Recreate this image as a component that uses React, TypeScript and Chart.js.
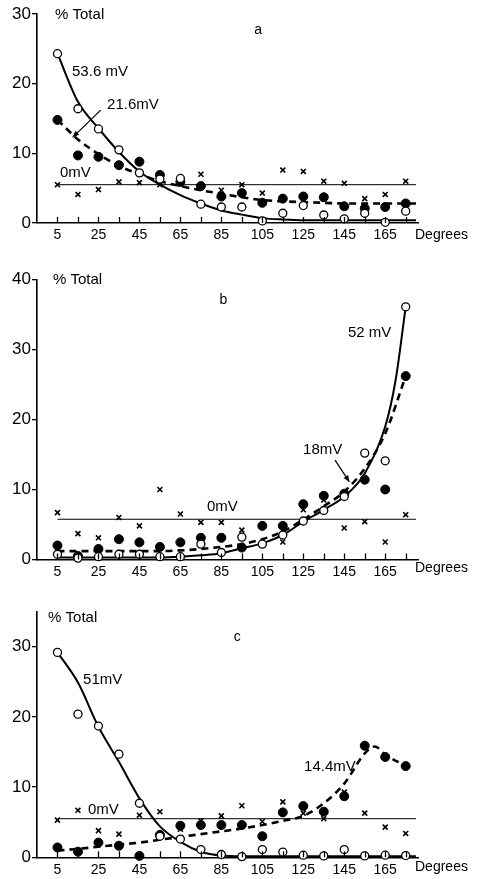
import React, { useEffect, useRef } from "react";
import { Chart, registerables } from "chart.js";

Chart.register(...registerables);

// ---------- shared axis data ----------
const degrees = [5, 15, 25, 35, 45, 55, 65, 75, 85, 95, 105, 115, 125, 135, 145, 155, 165, 175];
const xLabelValues = [5, 25, 45, 65, 85, 105, 125, 145, 165];
const zeroLineDeg = [5, 180];

// ---------- panel a ----------
const aOpen53 = [24.3, 16.4, 13.5, 10.5, 7.2, 6.3, 6.4, 2.7, 2.3, 2.3, 0.3, 1.4, 2.5, 1.15, 0.6, 1.4, 0.1, 1.7];
const aFilled21 = [14.8, 9.7, 9.5, 8.3, 8.8, 6.9, 5.9, 5.3, 3.8, 4.3, 2.9, 3.5, 3.8, 3.7, 2.4, 2.1, 2.3, 2.8];
const aCross0 = [5.5, 4.1, 4.8, 5.9, 5.8, 5.5, 5.6, 7.0, 4.7, 5.5, 4.3, 7.6, 7.4, 6.0, 5.7, 3.5, 4.1, 6.0];
const aCurveDeg = [5, 15, 25, 35, 45, 55, 65, 75, 85, 95, 105, 115, 125, 135, 145, 155, 165, 175, 180];
const aCurve53 = [24.3, 17.4, 13.6, 10.2, 7.4, 5.5, 4.0, 2.8, 1.8, 1.2, 0.7, 0.5, 0.4, 0.4, 0.4, 0.4, 0.4, 0.4, 0.4];
const aCurve21 = [14.8, 12.0, 9.9, 8.2, 7.0, 6.0, 5.3, 4.7, 4.2, 3.7, 3.3, 3.1, 3.0, 2.9, 2.8, 2.8, 2.8, 2.8, 2.8];
const aZero = [5.5, 5.5];
const aYTicks = [0, 10, 20, 30];

// ---------- panel b ----------
const bOpen52 = [0.75, 0.2, 0.4, 0.75, 0.75, 0.4, 0.4, 2.2, 1.0, 3.2, 2.2, 3.5, 5.5, 7.0, 9.0, 15.2, 14.1, 36.1];
const bFilled18 = [2.0, 0.5, 1.5, 2.9, 2.45, 1.8, 2.45, 3.1, 3.1, 1.7, 4.8, 4.8, 7.9, 9.1, 9.4, 11.4, 10.0, 26.2];
const bCross0 = [6.7, 3.7, 3.1, 6.0, 4.8, 10.0, 6.5, 5.3, 5.3, 4.2, 5.0, 2.5, 7.1, 8.5, 4.5, 5.4, 2.5, 6.4];
const bCurve52Deg = [5, 15, 25, 35, 45, 55, 65, 75, 85, 95, 105, 115, 125, 135, 145, 155, 165, 170, 175];
const bCurve52 = [0.3, 0.3, 0.3, 0.3, 0.3, 0.3, 0.4, 0.6, 0.9, 1.6, 2.3, 3.5, 5.4, 7.1, 9.0, 12.3, 19.0, 25.5, 36.1];
const bCurve18Deg = [5, 15, 25, 35, 45, 55, 65, 75, 85, 95, 105, 115, 125, 135, 145, 155, 165, 175];
const bCurve18 = [1.2, 1.2, 1.2, 1.2, 1.2, 1.2, 1.3, 1.5, 1.8, 2.2, 2.9, 4.0, 5.7, 7.6, 9.7, 13.0, 18.0, 26.2];
const bZero = [5.75, 5.75];
const bYTicks = [0, 10, 20, 30, 40];

// ---------- panel c ----------
const cOpen51 = [29.2, 20.4, 18.7, 14.7, 7.7, 3.0, 2.6, 1.1, 0.4, 0.1, 1.1, 0.75, 0.3, 0.2, 1.1, 0.2, 0.3, 0.25];
const cFilled14 = [1.4, 0.8, 2.1, 1.65, 0.2, 3.2, 4.5, 4.6, 4.6, 4.6, 3.0, 6.4, 7.3, 6.5, 8.7, 15.9, 14.3, 13.0];
const cCross0 = [5.3, 6.7, 3.8, 3.3, 6.0, 6.5, 4.0, 5.2, 5.9, 7.35, 5.1, 7.9, 6.3, 5.5, 9.3, 6.3, 4.3, 3.4];
const cCurve51Deg = [5, 15, 25, 35, 45, 55, 65, 75, 85, 95, 105, 115, 125, 135, 145, 155, 165, 175, 180];
const cCurve51 = [29.2, 24.9, 18.6, 13.6, 8.4, 4.4, 2.2, 0.8, 0.25, 0.15, 0.15, 0.15, 0.15, 0.15, 0.15, 0.15, 0.15, 0.15, 0.15];
const cCurve14Deg = [5, 15, 25, 35, 45, 55, 65, 75, 85, 95, 105, 115, 125, 135, 145, 155, 160, 165, 177];
const cCurve14 = [0.95, 1.2, 1.5, 1.8, 2.1, 2.5, 2.9, 3.3, 3.7, 4.1, 4.6, 5.2, 5.9, 7.7, 10.5, 14.8, 15.8, 14.6, 12.8];
const cZero = [5.5, 5.5];
const cYTicks = [0, 10, 20, 30];

type Txt = { text: string; x: number; y: number; size: number; align?: CanvasTextAlign };
type Arrow = { from: [number, number]; to: [number, number] };

const pts = (xs: number[], ys: number[]) => xs.map((x, i) => ({ x, y: ys[i] }));

const FONT = "'Liberation Sans', Arial, Helvetica, sans-serif";

const annotPlugin = {
  id: "annot",
  afterDatasetsDraw(chart: any, _args: any, opts: any) {
    const { ctx, chartArea } = chart;
    const xs = chart.scales.x;
    const ys = chart.scales.y;
    ctx.save();
    // inward ticks on x axis
    ctx.strokeStyle = "#000";
    ctx.lineWidth = 1.3;
    for (const v of degrees) {
      const px = Math.round(xs.getPixelForValue(v)) + 0.5;
      ctx.beginPath();
      ctx.moveTo(px, chartArea.bottom);
      ctx.lineTo(px, chartArea.bottom - 6);
      ctx.stroke();
    }
    // texts
    ctx.fillStyle = "#000";
    ctx.textBaseline = "middle";
    for (const t of (opts.texts || []) as Txt[]) {
      ctx.font = `${t.size}px ${FONT}`;
      ctx.textAlign = t.align || "left";
      ctx.fillText(t.text, xs.getPixelForValue(t.x), ys.getPixelForValue(t.y));
    }
    // "Degrees"
    ctx.font = `14px ${FONT}`;
    ctx.textAlign = "left";
    ctx.textBaseline = "middle";
    ctx.fillText("Degrees", chartArea.right - 3, chartArea.bottom + opts.degreesOffset);
    // arrows
    for (const a of (opts.arrows || []) as Arrow[]) {
      const x1 = xs.getPixelForValue(a.from[0]);
      const y1 = ys.getPixelForValue(a.from[1]);
      const x2 = xs.getPixelForValue(a.to[0]);
      const y2 = ys.getPixelForValue(a.to[1]);
      ctx.lineWidth = 1.2;
      ctx.beginPath();
      ctx.moveTo(x1, y1);
      ctx.lineTo(x2, y2);
      ctx.stroke();
      const ang = Math.atan2(y2 - y1, x2 - x1);
      const L = 7;
      ctx.beginPath();
      ctx.moveTo(x2, y2);
      ctx.lineTo(x2 - L * Math.cos(ang - 0.4), y2 - L * Math.sin(ang - 0.4));
      ctx.lineTo(x2 - L * Math.cos(ang + 0.4), y2 - L * Math.sin(ang + 0.4));
      ctx.closePath();
      ctx.fill();
    }
    ctx.restore();
  },
};

type Panel = {
  top: number;
  height: number;
  padTop: number;
  xAxisHeight: number;
  yMax: number;
  yTicks: number[];
  open: number[];
  filled: number[];
  cross: number[];
  solidX: number[];
  solid: number[];
  dashX: number[];
  dash: number[];
  zero: number[];
  texts: Txt[];
  arrows: Arrow[];
  degreesOffset: number;
};

const panels: Panel[] = [
  {
    top: 0,
    height: 250,
    padTop: 14,
    xAxisHeight: 27,
    yMax: 30,
    yTicks: aYTicks,
    open: aOpen53,
    filled: aFilled21,
    cross: aCross0,
    solidX: aCurveDeg,
    solid: aCurve53,
    dashX: aCurveDeg,
    dash: aCurve21,
    zero: aZero,
    texts: [
      { text: "% Total", x: 3.8, y: 29.9, size: 15 },
      { text: "a", x: 102.9, y: 27.7, size: 14, align: "center" },
      { text: "53.6 mV", x: 12.1, y: 21.7, size: 15 },
      { text: "21.6mV", x: 29.2, y: 17.0, size: 15 },
      { text: "0mV", x: 6.2, y: 7.2, size: 15 },
    ],
    arrows: [{ from: [26.1, 16.2], to: [12.4, 12.3] }],
    degreesOffset: 12,
  },
  {
    top: 265,
    height: 325,
    padTop: 14.5,
    xAxisHeight: 30.5,
    yMax: 40,
    yTicks: bYTicks,
    open: bOpen52,
    filled: bFilled18,
    cross: bCross0,
    solidX: bCurve52Deg,
    solid: bCurve52,
    dashX: bCurve18Deg,
    dash: bCurve18,
    zero: bZero,
    texts: [
      { text: "% Total", x: 2.8, y: 39.9, size: 15 },
      { text: "b", x: 86, y: 37.1, size: 14, align: "center" },
      { text: "52 mV", x: 146.8, y: 32.4, size: 15 },
      { text: "18mV", x: 124.9, y: 15.6, size: 15 },
      { text: "0mV", x: 78, y: 7.5, size: 15 },
    ],
    arrows: [{ from: [140.5, 14.2], to: [147.5, 11.1] }],
    degreesOffset: 9,
  },
  {
    top: 597,
    height: 282,
    padTop: 14.7,
    xAxisHeight: 21.7,
    yMax: 35,
    yTicks: cYTicks,
    open: cOpen51,
    filled: cFilled14,
    cross: cCross0,
    solidX: cCurve51Deg,
    solid: cCurve51,
    dashX: cCurve14Deg,
    dash: cCurve14,
    zero: cZero,
    texts: [
      { text: "% Total", x: 0.4, y: 34.1, size: 15 },
      { text: "c", x: 92.8, y: 31.4, size: 14, align: "center" },
      { text: "51mV", x: 17.5, y: 25.3, size: 15 },
      { text: "0mV", x: 19.9, y: 6.7, size: 15 },
      { text: "14.4mV", x: 125.4, y: 12.9, size: 15 },
    ],
    arrows: [],
    degreesOffset: 10,
  },
];

function makeConfig(p: Panel): any {
  return {
    type: "scatter",
    data: {
      datasets: [
        {
          data: pts(zeroLineDeg, p.zero),
          showLine: true,
          borderColor: "#000",
          borderWidth: 1,
          pointRadius: 0,
          order: 5,
          clip: false,
        },
        {
          data: pts(p.solidX, p.solid),
          showLine: true,
          borderColor: "#000",
          borderWidth: 2,
          pointRadius: 0,
          cubicInterpolationMode: "monotone",
          order: 4,
          clip: false,
        },
        {
          data: pts(p.dashX, p.dash),
          showLine: true,
          borderColor: "#000",
          borderWidth: 2.6,
          borderDash: [7, 5],
          pointRadius: 0,
          cubicInterpolationMode: "monotone",
          order: 3,
          clip: false,
        },
        {
          data: pts(degrees, p.cross),
          pointStyle: "crossRot",
          pointRadius: 3.5,
          borderColor: "#000",
          borderWidth: 1.6,
          order: 2,
          clip: false,
        },
        {
          data: pts(degrees, p.filled),
          pointStyle: "circle",
          pointRadius: 4.5,
          backgroundColor: "#000",
          borderColor: "#000",
          borderWidth: 1,
          order: 1,
          clip: false,
        },
        {
          data: pts(degrees, p.open),
          pointStyle: "circle",
          pointRadius: 4,
          backgroundColor: "#fff",
          borderColor: "#000",
          borderWidth: 1.3,
          order: 0,
          clip: false,
        },
      ],
    },
    options: {
      animation: false,
      responsive: false,
      events: [],
      layout: { padding: { top: p.padTop, right: 59, left: 0, bottom: 0 } },
      plugins: {
        legend: { display: false },
        tooltip: { enabled: false },
        annot: { texts: p.texts, arrows: p.arrows, degreesOffset: p.degreesOffset },
      },
      scales: {
        x: {
          type: "linear",
          min: -5,
          max: 181,
          afterBuildTicks: (s: any) => {
            s.ticks = degrees.map((v) => ({ value: v }));
          },
          afterFit: (s: any) => {
            s.height = p.xAxisHeight;
          },
          grid: { display: false, drawTicks: false },
          border: { display: true, color: "#000", width: 1.6 },
          ticks: {
            autoSkip: false,
            maxRotation: 0,
            padding: 4,
            color: "#000",
            font: { size: 14, family: FONT },
            callback: (v: any) => (xLabelValues.includes(Number(v)) ? String(v) : ""),
          },
        },
        y: {
          type: "linear",
          min: 0,
          max: p.yMax,
          afterBuildTicks: (s: any) => {
            s.ticks = p.yTicks.map((v) => ({ value: v }));
          },
          afterFit: (s: any) => {
            s.width = 37;
          },
          grid: { drawOnChartArea: false, drawTicks: true, tickLength: 5, color: "#000", lineWidth: 1.3 },
          border: { display: true, color: "#000", width: 1.6 },
          ticks: {
            padding: 1,
            color: "#000",
            font: { size: 17, family: FONT },
          },
        },
      },
    },
    plugins: [annotPlugin],
  };
}

function PanelChart({ p }: { p: Panel }) {
  const ref = useRef<HTMLCanvasElement | null>(null);
  useEffect(() => {
    if (!ref.current) return;
    const chart = new Chart(ref.current, makeConfig(p));
    return () => chart.destroy();
  }, [p]);
  return (
    <div style={{ position: "absolute", left: 0, top: p.top, width: 477, height: p.height }}>
      <canvas ref={ref} width={477} height={p.height} style={{ display: "block" }} />
    </div>
  );
}

export default function App() {
  return (
    <div style={{ position: "absolute", left: 0, top: 0, width: 477, height: 879, background: "#fff" }}>
      {panels.map((p, i) => (
        <PanelChart key={i} p={p} />
      ))}
    </div>
  );
}
